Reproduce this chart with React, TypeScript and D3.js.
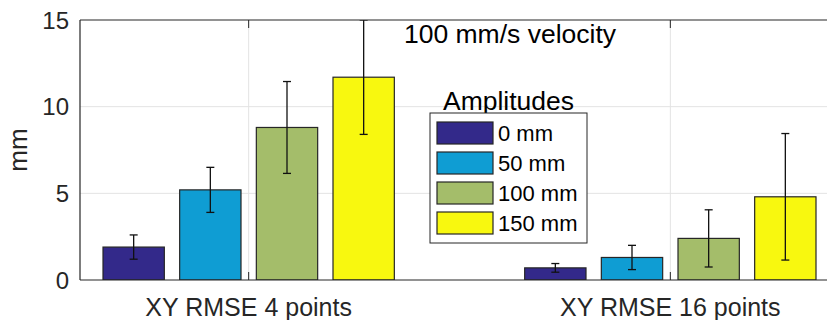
import React from "react";
import * as d3 from "d3";

// Grouped RMSE bars with ± error bars, one group per calibration pattern
const categories = ["XY RMSE 4 points", "XY RMSE 16 points"];
const amplitudes = ["0 mm", "50 mm", "100 mm", "150 mm"];
// means[amplitude][category]
const means = [
  [1.9, 0.7],
  [5.2, 1.3],
  [8.8, 2.4],
  [11.7, 4.8],
];
// half-width of the error bar[amplitude][category]
const errors = [
  [0.7, 0.25],
  [1.3, 0.7],
  [2.65, 1.65],
  [3.3, 3.65],
];
const colors = ["#33298a", "#0f9dd3", "#a4bd6a", "#f8f80f"];
const yTicks = [0, 5, 10, 15];
const title = "100 mm/s velocity";
const legendTitle = "Amplitudes";
const yLabel = "mm";

const W = 827;
const H = 320;
const margin = { left: 80, top: 20, bottom: 40 };
const plotRight = 839;
const FONT = "'Liberation Sans', Arial, Helvetica, sans-serif";
const AXIS = "#262626";
const GRID = "#e3e3e3";

export default function App() {
  const x = d3.scaleLinear().domain([0.6, 2.4]).range([margin.left, plotRight]);
  const y = d3.scaleLinear().domain([0, 15]).range([H - margin.bottom, margin.top]);

  const n = amplitudes.length;
  const groupWidth = Math.min(0.8, n / (n + 1.5));
  const step = groupWidth / n;
  const barW = step * 0.8;
  const offset = (i: number) => -groupWidth / 2 + step * (i + 0.5);

  const y0 = y(0);
  const top = y(15);

  // legend placement
  const lgX = 430;
  const lgY = 113;
  const lgW = 157;
  const rowH = 30;
  const lgH = 130;

  return (
    <svg
      width={W}
      height={H}
      style={{ position: "absolute", left: 0, top: 0, background: "#fff" }}
      fontFamily={FONT}
    >
      <defs>
        <clipPath id="plot">
          <rect x={margin.left} y={top} width={plotRight - margin.left} height={y0 - top} />
        </clipPath>
      </defs>

      {/* grid */}
      {yTicks
        .filter((t) => t > 0 && t < 15)
        .map((t) => (
          <line key={"gy" + t} x1={margin.left} x2={plotRight} y1={y(t)} y2={y(t)} stroke={GRID} strokeWidth={1} />
        ))}
      {categories.map((c, ci) => (
        <line key={"gx" + ci} x1={x(ci + 1)} x2={x(ci + 1)} y1={top} y2={y0} stroke={GRID} strokeWidth={1} />
      ))}

      {/* x ticks */}
      {categories.map((c, ci) => (
        <g key={"tx" + ci} stroke={AXIS} strokeWidth={1}>
          <line x1={x(ci + 1)} x2={x(ci + 1)} y1={y0} y2={y0 - 8} />
          <line x1={x(ci + 1)} x2={x(ci + 1)} y1={top} y2={top + 8} />
        </g>
      ))}

      {/* bars and error bars */}
      <g clipPath="url(#plot)">
        {amplitudes.map((a, ai) =>
          categories.map((c, ci) => {
            const cx = ci + 1 + offset(ai);
            const v = means[ai][ci];
            const e = errors[ai][ci];
            const xl = x(cx - barW / 2);
            const xr = x(cx + barW / 2);
            const px = x(cx);
            return (
              <g key={a + c}>
                <rect
                  x={xl}
                  y={y(v)}
                  width={xr - xl}
                  height={y0 - y(v)}
                  fill={colors[ai]}
                  stroke="#262626"
                  strokeWidth={1.2}
                />
                <g stroke="#111" strokeWidth={1.3}>
                  <line x1={px} x2={px} y1={y(v + e)} y2={y(v - e)} />
                  <line x1={px - 4} x2={px + 4} y1={y(v + e)} y2={y(v + e)} />
                  <line x1={px - 4} x2={px + 4} y1={y(v - e)} y2={y(v - e)} />
                </g>
              </g>
            );
          })
        )}
      </g>

      {/* axes box */}
      <g stroke={AXIS} strokeWidth={1.2} fill="none">
        <line x1={margin.left} x2={plotRight} y1={top} y2={top} />
        <line x1={margin.left} x2={plotRight} y1={y0} y2={y0} />
        <line x1={margin.left} x2={margin.left} y1={top} y2={y0} />
      </g>

      {/* y tick labels */}
      {yTicks.map((t) => (
        <text key={"yl" + t} x={69} y={y(t)} dy="0.36em" textAnchor="end" fontSize={24} fill="#262626">
          {t}
        </text>
      ))}
      <text
        transform={`translate(27,${(top + y0) / 2}) rotate(-90)`}
        textAnchor="middle"
        fontSize={26}
        fill="#262626"
      >
        {yLabel}
      </text>

      {/* category labels */}
      {categories.map((c, ci) => (
        <text key={"xl" + ci} x={x(ci + 1)} y={316} textAnchor="middle" fontSize={25} fill="#262626">
          {c}
        </text>
      ))}

      {/* annotation */}
      <text x={510} y={43} textAnchor="middle" fontSize={26.5} fill="#000">
        {title}
      </text>

      {/* legend */}
      <text x={lgX + lgW / 2} y={110} textAnchor="middle" fontSize={26.5} fill="#000">
        {legendTitle}
      </text>
      <rect x={lgX} y={lgY} width={lgW} height={lgH} fill="#fff" stroke="#262626" strokeWidth={1} />
      {amplitudes.map((a, ai) => (
        <g key={"lg" + a}>
          <rect
            x={437}
            y={lgY + 9 + ai * rowH}
            width={56}
            height={22}
            fill={colors[ai]}
            stroke="#262626"
            strokeWidth={1.2}
          />
          <text x={498} y={lgY + 20 + ai * rowH} dy="0.36em" fontSize={22} fill="#000">
            {a}
          </text>
        </g>
      ))}
    </svg>
  );
}
